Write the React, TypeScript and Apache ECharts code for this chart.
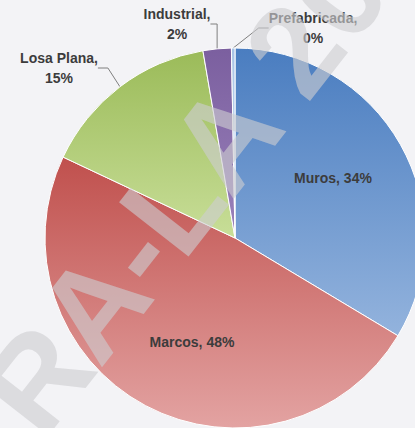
import React, { useEffect, useRef } from 'react';
import * as echarts from 'echarts';

const categories = ['Muros', 'Marcos', 'Losa Plana', 'Industrial', 'Prefabricada'];
const values = [33.6, 48.4, 15.3, 2.4, 0.3];
const colorsTop = ['#4a7dc0', '#c0504d', '#9bbb59', '#7b5f9f', '#a9c4e6'];
const colorsBottom = ['#93b3dd', '#e3a3a2', '#c8de98', '#9a82bb', '#c9dcf2'];
const insideLabels = ['Muros', 'Marcos'];
const watermarkText = 'RA-LA 20';

// label centres (layout only)
const labelPos: Record<string, [number, number]> = {
  Muros: [333, 178],
  Marcos: [192, 342],
  'Losa Plana': [59, 68],
  Industrial: [177, 24],
  Prefabricada: [313, 28],
};

export default function App() {
  const ref = useRef<HTMLDivElement>(null);
  useEffect(() => {
    if (!ref.current) return;
    const chart = echarts.init(ref.current, undefined, { renderer: 'svg' });
    const data = categories.map((name, i) => {
      const inside = insideLabels.includes(name);
      return {
        name,
        value: values[i],
        itemStyle: {
          color: new echarts.graphic.LinearGradient(0, 0, 0, 1, [
            { offset: 0, color: colorsTop[i] },
            { offset: 1, color: colorsBottom[i] },
          ]),
        },
        label: {
          position: inside ? 'inside' : 'outside',
          formatter: (p: any) =>
            inside
              ? `${p.name}, ${Math.round(p.percent)}%`
              : `${p.name},\n${Math.round(p.percent)}%`,
        },
        labelLine: { show: !inside },
      };
    });
    chart.setOption({
      animation: false,
      backgroundColor: '#f3f3f6',
      series: [
        {
          type: 'pie',
          center: [235, 238],
          radius: 190,
          startAngle: 90,
          clockwise: true,
          avoidLabelOverlap: false,
          itemStyle: { borderColor: '#ffffff', borderWidth: 1 },
          label: {
            fontFamily: '"Liberation Sans", Arial, sans-serif',
            fontSize: 14,
            fontWeight: 'bold',
            color: '#3c3c3c',
            lineHeight: 20,
            align: 'center',
          },
          labelLine: {
            lineStyle: { color: '#7f7f7f', width: 1 },
            length: 10,
            length2: 10,
          },
          labelLayout: (params: any) => {
            const name = categories[params.dataIndex];
            const pos = labelPos[name];
            return {
              x: pos[0],
              y: pos[1],
              align: 'center',
              verticalAlign: 'middle',
            };
          },
          data,
        },
      ],
      graphic: [
        {
          type: 'text',
          x: 184,
          y: 190,
          rotation: (52 * Math.PI) / 180,
          z: 100,
          silent: true,
          style: {
            text: watermarkText,
            font: 'bold 128px "Liberation Sans", Arial, sans-serif',
            fill: 'rgba(205,205,208,0.62)',
            textAlign: 'center',
            textVerticalAlign: 'middle',
          },
        },
      ],
    });
    return () => chart.dispose();
  }, []);
  return (
    <div
      ref={ref}
      style={{ position: 'absolute', left: 0, top: 0, width: 415, height: 428 }}
    />
  );
}
